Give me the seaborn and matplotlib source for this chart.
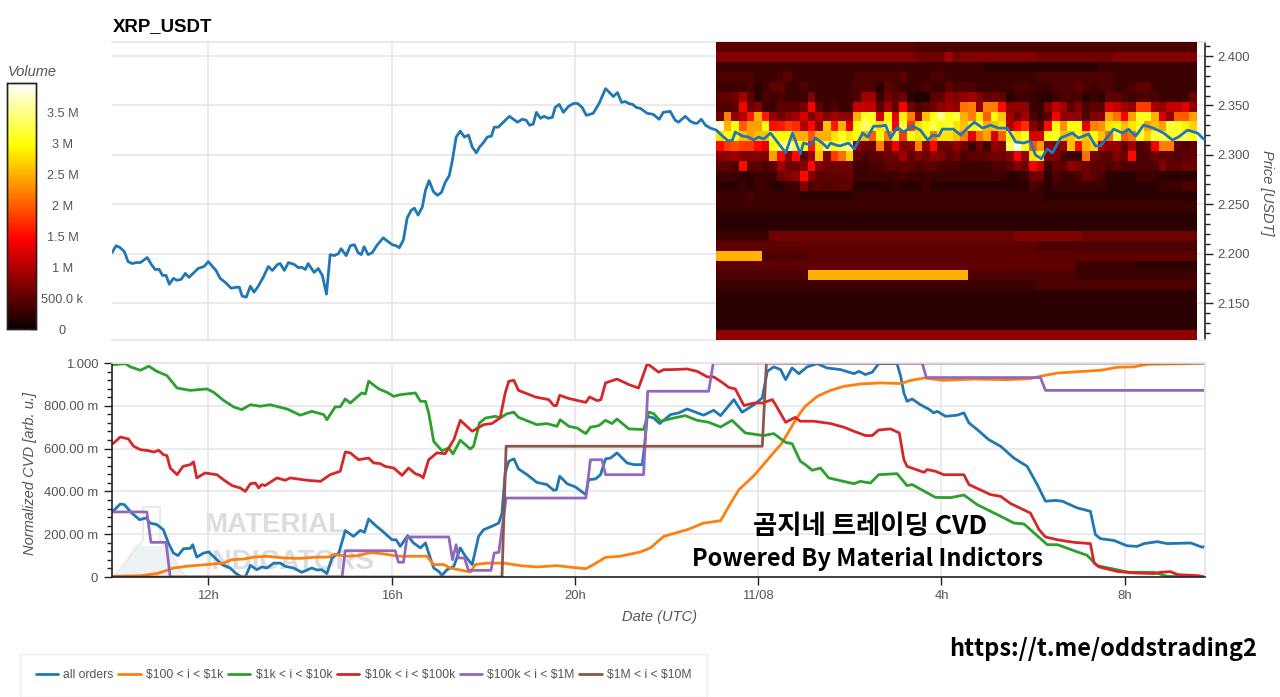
import numpy as np
import pandas as pd
import matplotlib
matplotlib.use("Agg")
import matplotlib.pyplot as plt
from matplotlib.patches import Polygon
from matplotlib.ticker import MultipleLocator, FuncFormatter, NullLocator
import seaborn as sns

W, H = 1280, 697

price_pts = [(9.90,2.201),(9.99,2.208),(10.08,2.206),(10.17,2.202),(10.25,2.192),(10.34,2.190),(10.43,2.191),(10.52,2.191),(10.67,2.196),(10.76,2.189),
(10.84,2.184),(10.93,2.184),(11.00,2.178),(11.08,2.178),(11.15,2.169),(11.24,2.175),(11.32,2.173),(11.41,2.174),(11.50,2.180),(11.58,2.176),
(11.69,2.181),(11.78,2.185),(11.91,2.187),(12.00,2.192),(12.11,2.186),(12.17,2.183),(12.26,2.175),(12.37,2.171),(12.50,2.165),(12.61,2.166),
(12.68,2.166),(12.74,2.157),(12.83,2.156),(12.92,2.167),(13.00,2.161),(13.09,2.167),(13.20,2.176),(13.31,2.187),(13.40,2.183),(13.51,2.189),
(13.57,2.190),(13.66,2.183),(13.75,2.191),(13.88,2.189),(13.96,2.186),(14.05,2.186),(14.12,2.184),(14.18,2.190),(14.31,2.181),(14.40,2.185),
(14.49,2.178),(14.58,2.159),(14.66,2.199),(14.75,2.198),(14.84,2.200),(14.90,2.205),(15.01,2.198),(15.10,2.208),(15.19,2.209),(15.27,2.201),
(15.34,2.199),(15.40,2.207),(15.49,2.199),(15.58,2.201),(15.69,2.209),(15.82,2.216),(15.93,2.212),(16.02,2.209),(16.10,2.208),(16.17,2.206),
(16.26,2.214),(16.34,2.236),(16.43,2.244),(16.50,2.246),(16.58,2.239),(16.67,2.247),(16.74,2.264),(16.82,2.274),(16.91,2.263),(17.00,2.259),
(17.09,2.262),(17.17,2.272),(17.26,2.279),(17.33,2.295),(17.41,2.318),(17.50,2.324),(17.59,2.318),(17.68,2.320),(17.76,2.308),(17.85,2.302),
(17.92,2.308),(18.00,2.312),(18.09,2.318),(18.18,2.319),(18.24,2.328),(18.33,2.328),(18.44,2.333),(18.57,2.339),(18.75,2.333),(18.85,2.336),
(18.94,2.335),(19.01,2.330),(19.09,2.331),(19.16,2.343),(19.25,2.337),(19.33,2.339),(19.42,2.337),(19.51,2.338),(19.57,2.348),(19.66,2.351),
(19.75,2.343),(19.86,2.349),(19.97,2.352),(20.06,2.352),(20.16,2.348),(20.25,2.340),(20.40,2.342),(20.53,2.352),(20.67,2.367),(20.78,2.362),
(20.84,2.359),(20.93,2.363),(21.02,2.353),(21.10,2.354),(21.17,2.352),(21.26,2.351),(21.34,2.348),(21.43,2.347),(21.58,2.342),(21.71,2.341),
(21.84,2.336),(21.93,2.343),(22.08,2.344),(22.19,2.335),(22.26,2.333),(22.41,2.339),(22.52,2.334),(22.61,2.332),(22.67,2.332),(22.76,2.336),
(22.85,2.330),(22.96,2.327),(23.09,2.325),(23.22,2.319),(23.35,2.314),(23.44,2.315),(23.50,2.323),(23.66,2.319),(23.79,2.318),(23.90,2.315),
(24.01,2.318),(24.12,2.316),(24.27,2.322),(24.42,2.313),(24.60,2.302),(24.75,2.322),(24.92,2.301),(24.99,2.312),(25.14,2.310),(25.25,2.317),
(25.40,2.312),(25.51,2.307),(25.58,2.312),(25.69,2.310),(25.79,2.309),(25.97,2.312),(26.10,2.306),(26.28,2.322),(26.39,2.318),(26.52,2.329),
(26.67,2.329),(26.78,2.330),(26.89,2.317),(27.04,2.328),(27.17,2.323),(27.37,2.329),(27.54,2.325),(27.70,2.315),(27.81,2.320),(27.94,2.319),
(28.02,2.326),(28.26,2.326),(28.42,2.320),(28.59,2.328),(28.72,2.333),(28.90,2.327),(29.07,2.330),(29.25,2.327),(29.44,2.327),(29.62,2.313),
(29.79,2.312),(29.94,2.314),(30.05,2.300),(30.18,2.296),(30.31,2.306),(30.42,2.302),(30.60,2.317),(30.75,2.320),(30.86,2.322),(30.99,2.317),
(31.21,2.321),(31.36,2.309),(31.47,2.309),(31.62,2.318),(31.76,2.326),(31.95,2.322),(32.08,2.326),(32.24,2.319),(32.41,2.330),(32.63,2.327),
(32.85,2.322),(33.04,2.315),(33.17,2.318),(33.37,2.325),(33.59,2.322),(33.72,2.316)]

all_orders = [(9.92,.307),(10.08,.341),(10.17,.338),(10.33,.299),(10.50,.268),(10.65,.276),(10.73,.252),(10.88,.245),(11.02,.221),(11.13,.159),
(11.24,.112),(11.34,.100),(11.46,.132),(11.61,.134),(11.66,.151),(11.75,.093),(11.90,.112),(12.01,.117),(12.15,.089),(12.30,.058),
(12.48,.042),(12.59,.019),(12.73,0),(12.81,0),(12.92,.055),(13.06,.034),(13.17,.047),(13.28,.042),(13.43,.065),(13.57,.065),
(13.68,.050),(13.86,.042),(14.04,.022),(14.26,.042),(14.37,.033),(14.48,.034),(14.59,.016),(14.70,.089),(14.85,.112),(14.99,.217),
(15.17,.190),(15.32,.218),(15.41,.209),(15.50,.271),(15.65,.241),(15.83,.209),(16.01,.174),(16.10,.174),(16.19,.143),(16.35,.193),
(16.48,.159),(16.63,.136),(16.74,.159),(16.81,.112),(16.92,.042),(17.03,.026),(17.10,.008),(17.21,.034),(17.36,.050),(17.50,.136),
(17.61,.097),(17.76,.058),(17.90,.190),(18.01,.221),(18.19,.237),(18.34,.252),(18.41,.299),(18.48,.486),(18.56,.541),(18.67,.552),
(18.77,.505),(18.96,.478),(19.17,.442),(19.39,.432),(19.54,.405),(19.60,.408),(19.67,.471),(19.83,.436),(20.01,.421),(20.24,.385),
(20.30,.455),(20.45,.458),(20.56,.478),(20.67,.552),(20.78,.556),(20.92,.580),(21.14,.533),(21.29,.525),(21.47,.525),(21.52,.611),
(21.58,.751),(21.72,.743),(21.85,.717),(22.09,.759),(22.27,.767),(22.45,.785),(22.81,.756),(23.03,.779),(23.18,.754),(23.47,.829),
(23.65,.770),(23.91,.805),(24.09,.837),(24.20,.961),(24.34,.982),(24.49,.969),(24.60,.922),(24.74,.977),(24.89,.950),(25.07,.982),
(25.29,.997),(25.50,.977),(25.80,.969),(26.09,.950),(26.20,.961),(26.34,.946),(26.49,.957),(26.63,.997),(27.03,.997),(27.11,.938),
(27.18,.860),(27.25,.821),(27.36,.832),(27.54,.805),(27.72,.785),(27.83,.767),(27.91,.774),(28.09,.751),(28.34,.756),(28.49,.767),
(28.60,.720),(28.78,.689),(29.03,.642),(29.29,.611),(29.58,.556),(29.87,.517),(30.09,.432),(30.27,.354),(30.49,.358),(30.64,.354),
(30.96,.323),(31.25,.307),(31.36,.198),(31.47,.179),(31.76,.171),(32.05,.146),(32.27,.143),(32.42,.156),(32.71,.165),(32.93,.156),
(33.44,.159),(33.69,.139),(33.74,.143)]

band_100_1k = [(9.92,.003),(10.52,.006),(10.88,.016),(11.10,.031),(11.24,.042),(11.53,.050),(12.12,.061),(12.33,.065),(12.52,.081),(12.77,.084),
(12.99,.093),(13.28,.097),(13.64,.089),(14.01,.087),(14.37,.093),(14.63,.093),(14.74,.106),(15.03,.097),(15.28,.100),(15.54,.115),
(15.90,.106),(16.12,.097),(16.63,.097),(16.77,.097),(16.92,.058),(17.14,.058),(17.28,.042),(17.54,.031),(17.72,.023),(17.83,.058),
(18.08,.065),(18.45,.065),(18.81,.053),(19.17,.047),(19.61,.053),(19.98,.044),(20.24,.039),(20.41,.058),(20.67,.092),(20.99,.097),
(21.43,.117),(21.65,.136),(21.94,.190),(22.45,.221),(22.81,.252),(23.18,.263),(23.36,.330),(23.58,.408),(23.91,.474),(24.27,.564),
(24.52,.626),(24.78,.720),(24.92,.767),(25.03,.798),(25.29,.844),(25.58,.872),(25.87,.891),(26.23,.902),(26.67,.907),(27.11,.904),
(27.32,.918),(27.62,.930),(28.05,.919),(28.71,.925),(29.43,.922),(29.94,.927),(30.23,.941),(30.53,.953),(31.47,.966),(31.84,.980),
(32.20,.982),(32.49,.994),(33.29,.997),(33.74,1.0)]

band_1k_10k = [(9.92,.992),(10.19,.997),(10.30,.982),(10.52,.966),(10.70,.985),(10.88,.961),(11.10,.941),(11.32,.883),(11.61,.872),(11.97,.879),
(12.12,.863),(12.33,.826),(12.55,.795),(12.73,.782),(12.92,.805),(13.14,.798),(13.35,.805),(13.72,.785),(14.01,.756),(14.26,.774),
(14.52,.759),(14.59,.735),(14.77,.795),(14.88,.795),(14.99,.832),(15.10,.813),(15.35,.860),(15.43,.855),(15.50,.915),(15.72,.879),
(15.90,.863),(16.05,.844),(16.19,.852),(16.52,.860),(16.63,.821),(16.74,.821),(16.81,.767),(16.92,.634),(17.10,.590),(17.25,.603),
(17.34,.575),(17.50,.639),(17.72,.598),(17.79,.611),(17.92,.720),(18.05,.743),(18.27,.751),(18.37,.743),(18.52,.763),(18.67,.770),
(18.77,.746),(19.17,.712),(19.39,.717),(19.61,.704),(19.68,.735),(19.87,.704),(20.05,.696),(20.24,.670),(20.34,.700),(20.52,.707),
(20.67,.732),(20.81,.717),(20.92,.738),(21.18,.692),(21.50,.689),(21.61,.771),(21.72,.763),(21.87,.728),(22.16,.743),(22.41,.754),
(22.67,.732),(22.92,.723),(23.18,.701),(23.43,.732),(23.72,.673),(24.12,.661),(24.34,.670),(24.60,.629),(24.74,.623),(24.92,.541),
(25.03,.525),(25.18,.499),(25.36,.509),(25.54,.463),(25.80,.450),(26.09,.436),(26.23,.447),(26.45,.439),(26.63,.478),(27.03,.483),
(27.25,.427),(27.36,.432),(27.69,.393),(27.87,.372),(28.20,.371),(28.49,.383),(28.78,.338),(29.29,.284),(29.58,.252),(29.80,.248),
(30.02,.206),(30.31,.151),(30.53,.151),(31.18,.101),(31.40,.053),(31.76,.037),(32.09,.022),(32.64,.022),(32.93,.003),(33.74,0)]

band_10k_100k = [(9.92,.623),(10.08,.654),(10.26,.645),(10.37,.611),(10.52,.595),(10.70,.590),(10.81,.584),(10.92,.592),(11.02,.572),(11.10,.567),
(11.17,.509),(11.32,.478),(11.45,.517),(11.61,.525),(11.68,.538),(11.75,.463),(11.93,.486),(12.19,.478),(12.33,.455),(12.52,.427),
(12.70,.416),(12.81,.400),(12.92,.436),(13.03,.439),(13.10,.416),(13.17,.432),(13.24,.427),(13.50,.463),(13.68,.452),(13.79,.463),
(14.15,.452),(14.45,.447),(14.66,.478),(14.88,.494),(14.99,.584),(15.10,.580),(15.28,.548),(15.39,.552),(15.50,.556),(15.61,.533),
(15.75,.530),(15.86,.517),(16.05,.509),(16.23,.475),(16.37,.509),(16.52,.483),(16.63,.474),(16.69,.463),(16.81,.548),(16.99,.580),
(17.17,.576),(17.36,.642),(17.50,.732),(17.76,.681),(18.01,.712),(18.19,.717),(18.37,.743),(18.48,.860),(18.56,.915),(18.67,.919),
(18.77,.872),(19.14,.841),(19.43,.829),(19.54,.801),(19.60,.801),(19.67,.849),(19.87,.834),(20.24,.816),(20.32,.841),(20.49,.824),
(20.57,.829),(20.67,.907),(20.92,.925),(21.18,.899),(21.39,.883),(21.58,.997),(21.83,.957),(21.94,.969),(22.09,.969),(22.45,.972),
(22.67,.961),(22.89,.935),(23.03,.935),(23.21,.910),(23.36,.886),(23.50,.879),(23.69,.801),(23.91,.813),(24.09,.813),(24.31,.829),
(24.38,.805),(24.60,.723),(24.81,.746),(24.92,.728),(25.21,.728),(25.58,.717),(25.87,.700),(26.09,.681),(26.34,.661),(26.49,.661),
(26.63,.687),(26.89,.692),(27.08,.673),(27.18,.548),(27.25,.517),(27.62,.489),(27.69,.502),(27.87,.494),(28.05,.478),(28.49,.478),
(28.60,.432),(29.07,.385),(29.29,.377),(29.51,.343),(29.94,.299),(30.13,.221),(30.27,.187),(30.53,.174),(30.89,.162),(31.25,.156),
(31.33,.065),(31.44,.047),(31.84,.026),(32.20,.019),(32.64,.016),(32.78,.022),(33.00,.025),(33.15,.011),(33.62,.006),(33.74,0)]

band_100k_1m = [(9.92,.304),(10.66,.304),(10.75,.162),(11.08,.162),(11.17,0),(14.92,0),(14.99,.123),(16.08,.123),(16.15,.069),(16.26,.069),
(16.34,.187),(17.25,.187),(17.33,.081),(17.41,.151),(17.46,.089),(17.59,.089),(17.68,.031),(18.17,.031),(18.24,.112),(18.34,.115),
(18.50,.369),(20.24,.369),(20.34,.548),(20.59,.548),(20.67,.478),(21.50,.478),(21.59,.868),(22.92,.868),(23.02,1.0),(27.58,1.0),
(27.67,.932),(30.16,.932),(30.27,.872),(33.74,.872)]

band_1m_10m = [(9.92,0),(18.41,0),(18.50,.611),(24.09,.611),(24.18,1.0),(33.74,1.0)]

series_names = ["all orders", "$100 < i < $1k", "$1k < i < $10k", "$10k < i < $100k", "$100k < i < $1M", "$1M < i < $10M"]
series_pts = [all_orders, band_100_1k, band_1k_10k, band_10k_100k, band_100k_1m, band_1m_10m]
series_colors = ["#1f77b4", "#ff7f0e", "#2ca02c", "#d62728", "#9467bd", "#8c564b"]

# traded volume per 10-minute / 0.01 USDT cell, in units of 100 k
volume_rows = [
 [5]*26+[4]*37,
 [7]*26+[6,6,6,6,9,6]+[7]*10+[6]*10+[7]*11,
 [3]*35+[2]*15+[3]*13,
 [4,4,4,4,4,3,3,3,4,5,3,3,3,3,3,3,3,3,4,4,4,4,4,4,5,3,3,3,4,4,3,3]+[3]*10+[4]*10+[3]*11,
 [3,3,3,3,4,2,3,5,5,3,3,4,3,3,3,3,3,3,4,4,4,2,5,4,3,3,3,4,3,3,5,4]+[4,4,3,3,3,3,3,4,4,3,3,3,4,4,4,5,4,3,4,4,3,3,4,5,5,3,3,3,3,3,3],
 [5,5,6,9,5,2,4,3,4,3,3,3,7,3,3,3,3,3,4,9,9,3,6,5,6,2,1,1,5,5,8,7]+[8,9,7,5,6,5,2,3,3,3,2,2,3,4,4,4,2,3,2,5,5,4,3,4,4,4,3,3,3,3,6],
 [4,4,5,14,6,7,3,3,5,5,5,6,14,5,3,4,3,3,11,11,11,5,9,5,14,6,4,5,6,8,9,8]+[21,22,8,22,22,15,8,8,8,3,3,7,11,9,5,7,4,5,5,12,11,9,8,18,18,9,8,11,11,13,8],
 [6,22,8,10,16,25,16,8,6,8,9,12,7,10,7,9,8,8,25,31,31,12,29,13,29,22,8,26,30,35,30,32]+[25,22,28,20,30,26,9,6,9,4,3,5,14,8,8,8,4,7,7,24,21,14,24,31,31,25,12,8,20,20,24],
 [38,25,30,20,24,24,30,15,16,18,17,10,15,8,26,16,25,13,30,34,32,28,32,14,32,18,28,30,33,30,32,28]+[26,30,31,25,26,28,10,14,17,7,5,15,30,23,30,30,13,22,23,28,29,26,28,31,24,26,24,32,31,29,27],
 [28,30,30,26,24,26,26,31,30,30,25,25,20,25,25,28,31,28,30,26,20,30,22,32,18,30,28,30,22,28,28,26]+[22,13,21,24,12,20,30,28,31,12,12,30,31,26,26,30,26,30,26,21,32,20,22,31,27,32,33,31,32,33,31],
 [15,18,19,18,18,15,13,30,33,36,33,30,16,28,34,30,33,35,8,6,6,22,7,14,7,8,22,8,15,6,6,8]+[6,3,6,3,8,7,33,39,31,20,24,8,7,8,26,15,25,27,10,8,8,5,9,4,5,14,22,22,5,4,5],
 [7,8,9,7,7,7,7,24,15,8,15,5,9,26,7,18,21,27,5,4,5,5,6,6,9,5,7,6,8,7,5,6]+[4,5,5,5,6,6,7,14,8,28,30,7,7,4,3,3,21,6,5,5,7,6,15,4,4,6,5,5,4,5,5],
 [5,5,4,15,5,5,4,5,9,6,6,7,15,7,6,6,6,6,3,3,4,4,5,5,5,5,4,5,5,4,4,4]+[3,3,3,3,4,4,5,7,6,14,11,3,5,5,8,7,6,5,5,4,5,4,4,4,4,4,7,5,5,6,6],
 [3,3,3,2,2,3,3,3,6,7,8,15,7,5,5,5,5,6,3,3,3,3,3,3,4,3,3,3,3,3,3,3]+[3,3,3,3,3,3,2,2,3,6,6,2,4,3,3,4,6,5,4,2,2,2,2,3,3,3,2,2,2,2,2],
 [2,2,2,3,2,3,3,2,2,3,3,7,4,5,4,5,5,5,2,2,2,2,2,3,2,2,2,3,2,2,2,2]+[2]*9+[4,3,2]+[3]*7+[2]*7+[3,3,3,4,4],
 [3,3,3,3,4,3,3,3,3,3,3]+[2]*7+[3]*14+[3]*11+[2]*20,
 [3]*63,
 [2]*63,
 [2]*63,
 [3]*7+[6]*32+[7]*9+[6]*15,
 [5]*42+[4]*21,
 [25]*6+[4]*6+[5]*51,
 [5]*47+[3]*8+[2]*8,
 [4]*12+[25]*21+[4]*14+[3]*16,
 [3]*42+[4]*21,
 [2]*63,
 [2]*63,
 [2]*63,
 [2]*63,
 [8]*63,
]

xtick_hours = [12, 16, 20, 24, 28, 32]
xtick_labels = ["12h", "16h", "20h", "11/08", "4h", "8h"]
cbar_ticks = [0, 0.5e6, 1e6, 1.5e6, 2e6, 2.5e6, 3e6, 3.5e6]
cbar_labels = ["0", "500.0 k", "1 M", "1.5 M", "2 M", "2.5 M", "3 M", "3.5 M"]
cvd_ticks = [0, .2, .4, .6, .8, 1.0]
cvd_labels = ["0", "200.00 m", "400.00 m", "600.00 m", "800.00 m", "1.000"]

sns.set_theme(style="white")
plt.rcParams["font.family"] = ["Liberation Sans", "DejaVu Sans"]
plt.rcParams["text.parse_math"] = False
GRAY = "#555555"
GRID = "#e6e6e9"
XLIM = (9.9, 33.74)
PRICE_LIM = (2.1126, 2.4142)

fig = plt.figure(figsize=(W / 100, H / 100), dpi=100, facecolor="white")

def rect(l, t, r, b):
    return [l / W, 1 - b / H, (r - l) / W, (b - t) / H]

def style_grid(ax):
    ax.grid(True, which="major", color=GRID, lw=1.1)
    ax.set_axisbelow(True)

# --- price panel: grid and axis below, heat map above it, line on top
ax_price = fig.add_axes(rect(112, 42, 1204.5, 340), zorder=1)
ax_price.set_xlim(*XLIM)
ax_price.set_ylim(*PRICE_LIM)
ax_price.set_xticks(xtick_hours)
ax_price.tick_params(axis="x", length=0, labelbottom=False)
ax_price.yaxis.tick_right()
ax_price.yaxis.set_major_locator(MultipleLocator(0.05))
ax_price.yaxis.set_minor_locator(MultipleLocator(0.01))
ax_price.yaxis.set_major_formatter(FuncFormatter(lambda v, _: f"{v:.3f}"))
ax_price.tick_params(axis="y", which="major", right=True, length=6, width=1, color="#222222",
                     labelsize=9.4, labelcolor=GRAY, pad=3.5)
ax_price.tick_params(axis="y", which="minor", right=True, length=3.6, width=1, color="#222222")
style_grid(ax_price)
for s in ("left", "top", "bottom"):
    ax_price.spines[s].set_color(GRID)
ax_price.spines["left"].set_visible(False)
ax_price.spines["right"].set_color("#222222")
ax_price.spines["right"].set_linewidth(1.2)

ax_heat = fig.add_axes(rect(716, 42, 1197, 340), zorder=2)
ax_cbar = fig.add_axes(rect(7, 83, 36, 329), zorder=2)
volume = np.array(volume_rows, dtype=float) * 1e5
sns.heatmap(volume, ax=ax_heat, cmap="hot", vmin=0, vmax=3.98e6, cbar=True, cbar_ax=ax_cbar,
            xticklabels=False, yticklabels=False)
ax_heat.set_axis_off()

ax_cbar.set_yticks(cbar_ticks)
ax_cbar.set_yticklabels(cbar_labels, ha="center")
ax_cbar.tick_params(axis="y", direction="in", length=4.3, width=1, color="#222222",
                    labelsize=9.2, labelcolor=GRAY, pad=19)
ax_cbar.minorticks_off()
for s in ax_cbar.spines.values():
    s.set_visible(True)
    s.set_color("#222222")
    s.set_linewidth(1)
fig.text(32 / W, 1 - 72 / H, "Volume", fontsize=10.5, style="italic", color=GRAY, ha="center", va="center")

ax_line = fig.add_axes(rect(112, 42, 1204.5, 340), zorder=3)
price_df = pd.DataFrame(price_pts, columns=["hour", "price"])
sns.lineplot(data=price_df, x="hour", y="price", ax=ax_line, color="#1f77b4", lw=2.0,
             estimator=None, sort=False)
ax_line.set_xlim(*XLIM)
ax_line.set_ylim(*PRICE_LIM)
ax_line.set_axis_off()
ax_line.patch.set_alpha(0)

fig.text(113 / W, 1 - 27 / H, "XRP_USDT", fontsize=13.4, fontweight="bold", color="black", ha="left", va="center")
fig.text(1267 / W, 1 - 193 / H, "Price [USDT]", fontsize=10.5, style="italic", color=GRAY,
         rotation=270, ha="center", va="center")

# --- CVD panel
ax_cvd = fig.add_axes(rect(112, 363, 1204.5, 577), zorder=1)
frames = [pd.DataFrame(p, columns=["hour", "cvd"]).assign(size_band=n) for n, p in zip(series_names, series_pts)]
cvd_df = pd.concat(frames, ignore_index=True)
sns.lineplot(data=cvd_df, x="hour", y="cvd", hue="size_band", hue_order=series_names,
             palette=series_colors, ax=ax_cvd, lw=2.0, estimator=None, sort=False, legend=True)
handles, labels = ax_cvd.get_legend_handles_labels()
ax_cvd.get_legend().remove()
ax_cvd.set_xlim(*XLIM)
ax_cvd.set_ylim(0, 1)
ax_cvd.set_xticks(xtick_hours)
ax_cvd.set_xticklabels(xtick_labels)
ax_cvd.set_yticks(cvd_ticks)
ax_cvd.set_yticklabels(cvd_labels)
ax_cvd.yaxis.set_minor_locator(MultipleLocator(0.04))
ax_cvd.xaxis.set_minor_locator(NullLocator())
ax_cvd.tick_params(axis="x", which="major", bottom=True, length=6, width=1, color="#222222",
                   labelsize=9.4, labelcolor=GRAY, pad=3.5)
ax_cvd.tick_params(axis="y", which="major", left=True, length=6, width=1, color="#222222",
                   labelsize=9.4, labelcolor=GRAY, pad=4)
ax_cvd.tick_params(axis="y", which="minor", left=True, length=3.6, width=1, color="#222222")
style_grid(ax_cvd)
ax_cvd.set_xlabel("")
ax_cvd.set_ylabel("")
for s in ("top", "right"):
    ax_cvd.spines[s].set_color(GRID)
for s in ("left", "bottom"):
    ax_cvd.spines[s].set_color("#222222")
    ax_cvd.spines[s].set_linewidth(1.2)

# watermark, below the lines
WM = "#d9dce0"
for txt, y in (("MATERIAL", 525), ("INDICATORS", 562)):
    ax_cvd.text(204 / W, 1 - y / H, txt, transform=fig.transFigure, fontsize=20, fontweight="bold",
                color=WM, ha="left", va="center", zorder=0.5, clip_on=False)
def px(points):
    return [(x / W, 1 - y / H) for x, y in points]
flask_out = [(143, 507), (160, 507), (160, 540), (186, 577), (114, 577), (143, 540)]
flask_liq = [(134, 546), (169, 546), (184, 575), (119, 575)]
ax_cvd.add_patch(Polygon(px(flask_out), closed=True, transform=fig.transFigure, fc="none", ec="#e8eaed",
                         lw=1.4, zorder=0.5, clip_on=False))
ax_cvd.add_patch(Polygon(px(flask_liq), closed=True, transform=fig.transFigure, fc="#edf2f5", ec="none",
                         zorder=0.4, clip_on=False))

fig.text(30 / W, 1 - 473 / H, "Normalized CVD [arb. u.]", fontsize=10.5, style="italic", color=GRAY,
         rotation=90, ha="center", va="center")
fig.text(660 / W, 1 - 617 / H, "Date (UTC)", fontsize=10.5, style="italic", color=GRAY, ha="center", va="center")

leg = fig.legend(handles, labels, loc="lower left", bbox_to_anchor=(20 / W, 0), ncols=6, fontsize=8.7,
                 frameon=True, fancybox=False, edgecolor="#eeeeee", facecolor="white", framealpha=1,
                 handlelength=1.85, handletextpad=0.45, columnspacing=0.38, borderpad=1.3, labelcolor=GRAY,
                 borderaxespad=0)
for line in leg.get_lines():
    line.set_linewidth(2.0)

# overlaid captions
KR = ["Noto Sans CJK KR", "DejaVu Sans"]
fig.text(870 / W, 1 - 527 / H, "곰지네 트레이딩 CVD", family=KR, fontsize=19, fontweight="bold", color="black",
         ha="center", va="center", zorder=10)
fig.text(867 / W, 1 - 559 / H, "Powered By Material Indictors", family=KR, fontsize=17, fontweight="bold",
         color="black", ha="center", va="center", zorder=10)
fig.text(1103 / W, 1 - 649 / H, "https://t.me/oddstrading2", family=KR, fontsize=17, fontweight="bold",
         color="black", ha="center", va="center", zorder=10)

fig.savefig("out.png", dpi=100, facecolor="white")
